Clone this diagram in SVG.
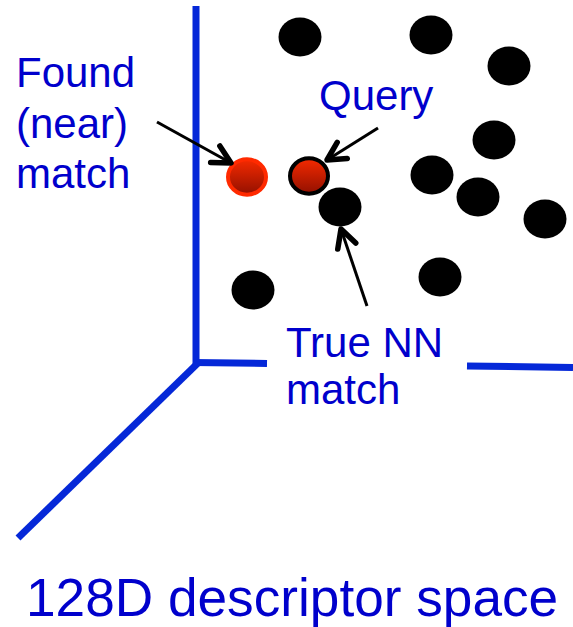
<svg xmlns="http://www.w3.org/2000/svg" width="573" height="627" viewBox="0 0 573 627">
<style>
.axis{stroke:#0528d8;stroke-width:7;fill:none}
.lbl{font-family:"Liberation Sans",Arial,sans-serif;fill:#0000cc}
.dot{fill:#000}
.shaft{stroke:#000;stroke-width:3;fill:none}
</style>
<defs>
<linearGradient id="red" x1="0" y1="0" x2="0" y2="1">
<stop offset="0" stop-color="#f52a00"/>
<stop offset="1" stop-color="#921000"/>
</linearGradient>
<marker id="ah" markerUnits="userSpaceOnUse" orient="auto" refX="0" refY="0" markerWidth="40" markerHeight="40" overflow="visible">
<path d="M-18,-9.5 L0,0 L-18,9.5" fill="none" stroke="#000" stroke-width="5.5" stroke-linecap="round" stroke-linejoin="round"/>
</marker>
</defs>
<rect width="573" height="627" fill="#fff"/>
<g id="axes">
<line class="axis" x1="196" y1="6" x2="196" y2="366"/>
<line class="axis" x1="193" y1="362.5" x2="267" y2="363.5"/>
<line class="axis" x1="467" y1="366" x2="573" y2="367.5"/>
<line class="axis" x1="198" y1="363" x2="18" y2="538"/>
</g>
<g id="points">
<ellipse class="dot" cx="300" cy="37" rx="21.5" ry="19.5"/>
<ellipse class="dot" cx="431" cy="35" rx="21.5" ry="19.5"/>
<ellipse class="dot" cx="509" cy="66" rx="21.5" ry="19.5"/>
<ellipse class="dot" cx="494" cy="140" rx="21.5" ry="19.5"/>
<ellipse class="dot" cx="432" cy="175" rx="21.5" ry="19.5"/>
<ellipse class="dot" cx="478" cy="197" rx="21.5" ry="19.5"/>
<ellipse class="dot" cx="545" cy="219" rx="21.5" ry="19.5"/>
<ellipse class="dot" cx="253" cy="290" rx="21.5" ry="19.5"/>
<ellipse class="dot" cx="440" cy="277" rx="21.5" ry="19.5"/>
</g>
<g id="true-nn">
<ellipse class="dot" cx="340" cy="207" rx="21.5" ry="19.5"/>
</g>
<g id="found">
<ellipse cx="247" cy="177" rx="19" ry="17.7" fill="url(#red)" stroke="#ff2a00" stroke-width="4"/>
</g>
<g id="query">
<ellipse cx="309" cy="176" rx="19" ry="17.7" fill="url(#red)" stroke="#000" stroke-width="4"/>
</g>
<g id="connectors">
<line class="shaft" x1="157" y1="122" x2="231" y2="163" marker-end="url(#ah)"/>
<line class="shaft" x1="378" y1="128" x2="327" y2="160" marker-end="url(#ah)"/>
<line class="shaft" x1="367" y1="306" x2="341" y2="229" marker-end="url(#ah)"/>
</g>
<g id="labels">
<text class="lbl" font-size="42"><tspan x="16" y="87">Found</tspan><tspan x="16" y="138">(near)</tspan><tspan x="16" y="188">match</tspan></text>
<text class="lbl" font-size="42" x="319" y="110">Query</text>
<text class="lbl" font-size="42"><tspan x="286" y="357">True NN</tspan><tspan x="286" y="404">match</tspan></text>
<text class="lbl" font-size="53.2" x="26" y="616">128D descriptor space</text>
</g>
</svg>
